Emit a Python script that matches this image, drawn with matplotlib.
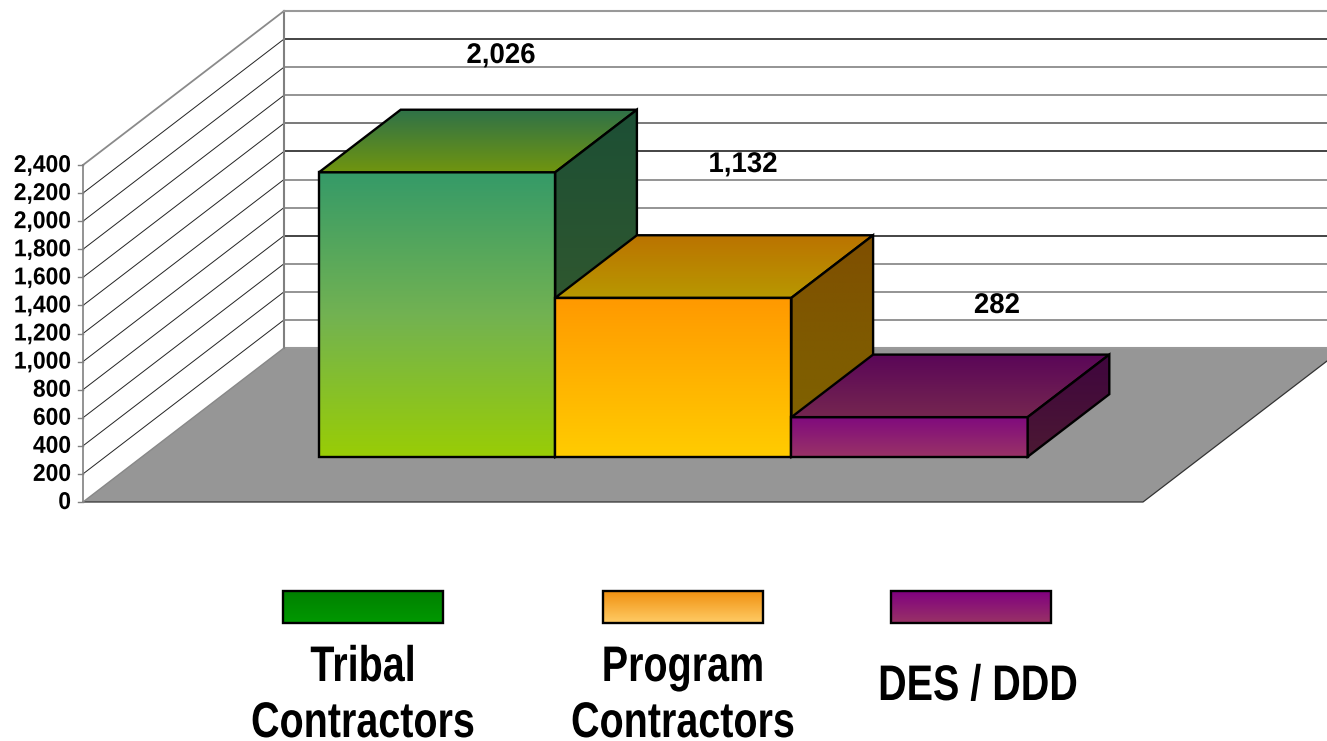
import numpy as np
from matplotlib import pyplot as plt
from matplotlib.colors import LinearSegmentedColormap
from matplotlib.patches import Polygon
from matplotlib.patheffects import AbstractPathEffect
from matplotlib.transforms import Affine2D

# data
categories = [['Tribal', 'Contractors'], ['Program', 'Contractors'], ['DES / DDD']]
values = [2026, 1132, 282]
value_labels = ['2,026', '1,132', '282']
y_ticks = [0, 200, 400, 600, 800, 1000, 1200, 1400, 1600, 1800, 2000, 2200, 2400]

# colours of each face, top to bottom
front_colors = [('#359a68', '#72b252', '#99cd05'), ('#ff9900', '#ffcc00'), ('#800a7e', '#993366')]
top_colors = [('#2e7149', '#70950f'), ('#bb7300', '#b89800'), ('#5a0658', '#752650')]
side_colors = [('#1c4f35', '#3f5e2a'), ('#7f4f00', '#7f6600'), ('#3f053e', '#4c1933')]
legend_colors = [('#008000', '#009900'), ('#f09010', '#ffcc66'), ('#800080', '#993366')]

# projection of the 3d box onto the image, in pixels
origin_x, origin_y = 83, 502
wall_dx, wall_dy = 201, -154
floor_w = 1060
px_per_unit = 337 / 2400

bar_w = 236.2
bar_x0 = 177
bar_d0 = 0.294
bar_d1 = 0.70

plt.rcParams['font.family'] = ['Liberation Sans', 'DejaVu Sans']


class Squeeze(AbstractPathEffect):
    # narrows a text horizontally around its anchor, there is no Arial Narrow here
    def __init__(self, ax, x, sx):
        super().__init__()
        self.ax, self.x, self.sx = ax, x, sx

    def draw_path(self, renderer, gc, tpath, affine, rgbFace=None):
        cx = self.ax.transData.transform((self.x, 0))[0]
        squeeze = Affine2D().translate(-cx, 0).scale(self.sx, 1).translate(cx, 0)
        renderer.draw_path(gc, tpath, affine + squeeze, rgbFace)


def narrow_text(ax, x, y, s, size, sx, ha='center', va='baseline'):
    t = ax.text(x, y, s, ha=ha, va=va, fontsize=size, fontweight='bold', color='black', zorder=5)
    t.set_path_effects([Squeeze(ax, x, sx)])
    return t


def project(x, value, depth):
    return (origin_x + x + depth * wall_dx,
            origin_y - value * px_per_unit + depth * wall_dy)


def gradient_face(ax, pts, colors, edge='black', lw=1.7):
    # vertical gradient, clipped to the polygon
    pts = np.array(pts)
    cmap = LinearSegmentedColormap.from_list('face', colors)
    grad = np.linspace(0, 1, 256).reshape(-1, 1)
    im = ax.imshow(grad, cmap=cmap, aspect='auto', interpolation='bilinear', zorder=3,
                   extent=(pts[:, 0].min(), pts[:, 0].max(), pts[:, 1].max(), pts[:, 1].min()))
    poly = Polygon(pts, closed=True, fc='none', ec=edge, lw=lw, joinstyle='miter', zorder=3)
    ax.add_patch(poly)
    im.set_clip_path(poly)


fig = plt.figure(figsize=(13.27, 7.41), dpi=100)
ax = fig.add_axes([0, 0, 1, 1])
ax.axis('off')

# floor
floor = [project(0, 0, 0), project(floor_w, 0, 0), project(floor_w, 0, 1), project(0, 0, 1)]
ax.add_patch(Polygon(floor, closed=True, fc='#969696', ec='none', zorder=1))
ax.plot(*zip(floor[0], floor[1], floor[2]), c='#333333', lw=0.9, zorder=1)
ax.plot(*zip(floor[3], floor[2]), c='#999999', lw=1.5, zorder=1)

# gridlines on the back wall and the side wall
grid_colors = ['#777777', '#777777', '#777777', '#111111', '#777777', '#777777', '#111111',
               '#555555', '#777777', '#777777', '#111111', '#888888']
for i, t in enumerate(y_ticks):
    if t > 0:
        ax.plot(*zip(project(0, t, 1), project(floor_w + 60, t, 1)),
                c=grid_colors[i - 1], lw=1.1, zorder=2)
        ax.plot(*zip(project(0, t, 0), project(0, t, 1)),
                c='#8a8a8a' if t == y_ticks[-1] else '#222222',
                lw=1.3 if t == y_ticks[-1] else 0.7, zorder=2)
    ax.plot([origin_x - 5, origin_x], [origin_y - t * px_per_unit] * 2, c='#808080', lw=1, zorder=2)
    narrow_text(ax, origin_x - 12, origin_y - t * px_per_unit + 7, format(t, ','), 17.5, 0.94, ha='right')
ax.plot(*zip(project(0, 0, 0), project(0, y_ticks[-1], 0)), c='#808080', lw=1.2, zorder=2)
ax.plot(*zip(project(0, 0, 1), project(0, y_ticks[-1], 1)), c='#808080', lw=1.5, zorder=2)
ax.plot(*zip(project(0, y_ticks[-1], 1), project(floor_w + 60, y_ticks[-1], 1)), c='#999999', lw=1.5, zorder=2)
ax.plot(*zip(project(0, 0, 0), project(0, 0, 1)), c='#888888', lw=1, zorder=2)

# bars
for i, v in enumerate(values):
    x0 = bar_x0 + i * bar_w
    x1 = x0 + bar_w
    gradient_face(ax, [project(x0, v, bar_d0), project(x1, v, bar_d0), project(x1, 0, bar_d0), project(x0, 0, bar_d0)],
                  front_colors[i])
    gradient_face(ax, [project(x0, v, bar_d0), project(x1, v, bar_d0), project(x1, v, bar_d1), project(x0, v, bar_d1)],
                  top_colors[i])
    gradient_face(ax, [project(x1, v, bar_d0), project(x1, v, bar_d1), project(x1, 0, bar_d1), project(x1, 0, bar_d0)],
                  side_colors[i])

# value labels
label_xy = [(501, 63), (743, 172), (997, 313)]
for (lx, ly), s in zip(label_xy, value_labels):
    narrow_text(ax, lx, ly, s, 20.5, 0.97)

# legend
swatch_x = [283, 603, 891]
label_x = [363, 683, 978]
line_y = [[681, 737], [681, 737], [700]]
for i, lines in enumerate(categories):
    sx = swatch_x[i]
    gradient_face(ax, [(sx, 591), (sx + 160, 591), (sx + 160, 623), (sx, 623)], legend_colors[i])
    for s, ly in zip(lines, line_y[i]):
        narrow_text(ax, label_x[i], ly, s, 36, 0.79)

ax.set_xlim(0, 1327)
ax.set_ylim(741, 0)
fig.savefig('out.png', dpi=100)
